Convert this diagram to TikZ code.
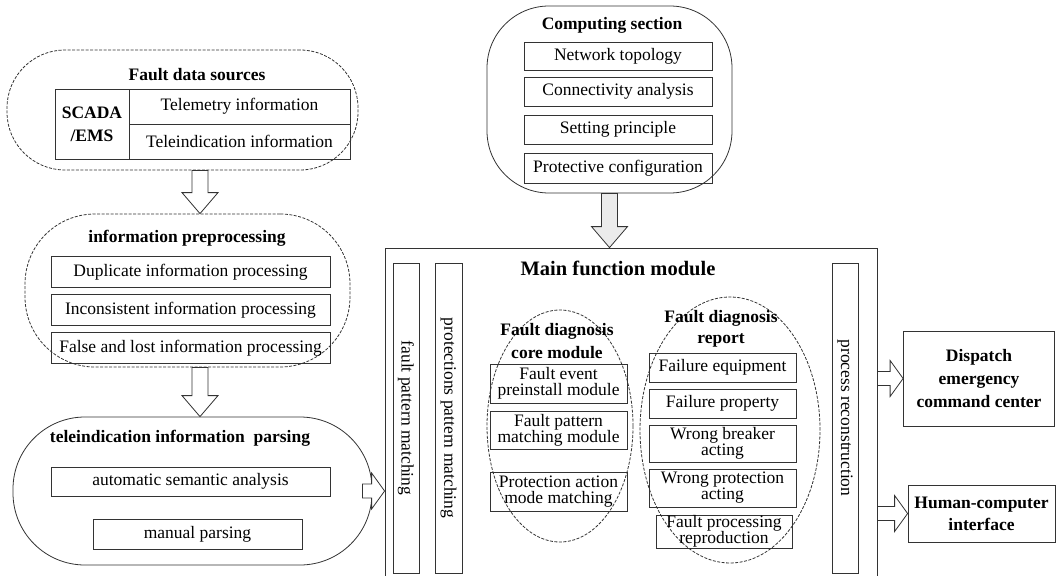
\documentclass[tikz,border=0pt]{standalone}
\usepackage{fontspec}
\setmainfont{Liberation Serif}
\usetikzlibrary{calc,shapes.geometric}
\tikzset{
  box/.style={draw=black!80, inner sep=0pt, align=center},
  group/.style={draw=black!80, inner sep=0pt, rounded corners=#1},
  dline/.style={dash pattern=on 3pt off 1.5pt},
  head/.style={font=\bfseries\fontsize{17.5}{22}\selectfont, align=center, inner sep=0pt},
  darr/.style={draw=black!80, to path={let \p1=(\tikztostart), \p2=(\tikztotarget) in
    (\x1-8pt,\y1) -- (\x1-8pt,\y2+21pt) -- (\x1-18pt,\y2+21pt) -- (\x1,\y2)
    -- (\x1+18pt,\y2+21pt) -- (\x1+8pt,\y2+21pt) -- (\x1+8pt,\y1) -- cycle}},
  rarr/.style={draw=black!80, fill=white, to path={let \p1=(\tikztostart), \p2=(\tikztotarget) in
    (\x1,\y1+7pt) -- (\x2-13pt,\y1+7pt) -- (\x2-13pt,\y1+18pt) -- (\x2,\y1)
    -- (\x2-13pt,\y1-18pt) -- (\x2-13pt,\y1-7pt) -- (\x1,\y1-7pt) -- cycle}}
}
\begin{document}
\begin{tikzpicture}[x=1pt, y=-1pt, line width=.8pt, font=\fontsize{17.5}{16}\selectfont]
\clip (0,0) rectangle (1056,575);
\coordinate (axis) at (200,0);

\node[group=58, dline, minimum width=351, minimum height=120] (fds) at (182.5,110) {};
\node[head] (fdst) at (197,75) {Fault data sources};
\node[box, font=\bfseries\fontsize{17.5}{23}\selectfont, minimum width=74, minimum height=70] (scada) at (92,124) {SCADA\\/EMS};
\node[box, minimum width=221, minimum height=35] (tele1) at (239.5,106.5) {Telemetry information};
\node[box, minimum width=221, minimum height=35] (tele2) at (239.5,141.5) {Teleindication information};

\node[group=70, dline, minimum width=325, minimum height=153] (pre) at (187.5,290.5) {};
\node[head] (pret) at (187,238) {information preprocessing};
\node[box, minimum width=279, minimum height=31] (dup) at (190.5,272) {Duplicate information processing};
\node[box, minimum width=279, minimum height=31] (inc) at (190.5,310) {Inconsistent information processing};
\node[box, minimum width=279, minimum height=31] (fal) at (190.5,348) {False and lost information processing};

\node[group=72, minimum width=359, minimum height=148] (parse) at (192.5,491) {};
\node[head] (parset) at (180,438) {teleindication information\ \ parsing};
\node[box, minimum width=279, minimum height=29] (auto) at (190.5,481.5) {automatic semantic analysis};
\node[box, minimum width=209, minimum height=30] (manual) at (197.5,534) {manual parsing};

\node[group=62, minimum width=245, minimum height=187] (comp) at (609.5,99.5) {};
\node[head] (compt) at (612,25) {Computing section};
\node[box, minimum width=188, minimum height=28] (net) at (618,56) {Network topology};
\node[box, minimum width=188, minimum height=29] (con) at (618,91.5) {Connectivity analysis};
\node[box, minimum width=188, minimum height=29] (set) at (618,129.5) {Setting principle};
\node[box, minimum width=188, minimum height=30] (prot) at (618,168) {Protective configuration};

\node[box, minimum width=492, minimum height=352] (main) at (631,424) {};
\node[head, font=\bfseries\fontsize{20.5}{22}\selectfont] (maint) at (618,268) {Main function module};
\node[box, rotate=-90, minimum width=310, minimum height=26] (fpm) at (406,418) {fault pattern matching};
\node[box, rotate=-90, minimum width=310, minimum height=27] (ppm) at (448.5,418) {protections pattern matching};
\node[box, rotate=-90, minimum width=310, minimum height=26] (prc) at (845,418) {process reconstruction};

\node[ellipse, draw=black!80, dline, minimum width=146, minimum height=232] (core) at (560,426) {};
\node[head, font=\bfseries\fontsize{17.5}{23}\selectfont] (coret) at (557,341) {Fault diagnosis\\core module};
\node[box, minimum width=137, minimum height=39] (fep) at (558.5,383.5) {Fault event\\preinstall module};
\node[box, minimum width=137, minimum height=38] (fpmm) at (558.5,430) {Fault pattern\\matching module};
\node[box, minimum width=137, minimum height=39] (pam) at (558.5,491.5) {Protection action\\mode matching};

\node[ellipse, draw=black!80, dline, minimum width=180, minimum height=266] (rep) at (730,430) {};
\node[head, font=\bfseries\fontsize{17.5}{21}\selectfont] (rept) at (721,329) {Fault diagnosis\\report};
\node[box, minimum width=147, minimum height=29] (feq) at (722.5,367.5) {Failure equipment};
\node[box, minimum width=147, minimum height=29] (fpr) at (722.5,403.5) {Failure property};
\node[box, minimum width=147, minimum height=37] (wba) at (722.5,443.5) {Wrong breaker\\acting};
\node[box, minimum width=147, minimum height=38] (wpa) at (722.5,488) {Wrong protection\\acting};
\node[box, minimum width=136, minimum height=33] (fprr) at (724,531.5) {Fault processing\\reproduction};

\node[box, font=\bfseries\fontsize{17.5}{23}\selectfont, minimum width=151, minimum height=95] (disp) at (979,378.5) {Dispatch\\emergency\\command center};
\node[box, font=\bfseries\fontsize{17.5}{22}\selectfont, minimum width=147, minimum height=57] (hci) at (981.5,513.5) {Human-computer\\interface};

\draw[darr, fill=white] (fds.south -| axis) to (pre.north -| axis);
\draw[darr, fill=white] (pre.south -| axis) to (parse.north -| axis);
\draw[darr, fill=black!8] (comp.south) to (comp.south |- main.north);
\draw[rarr] ($(parse.east)+(-10,0)$) to (parse.east -| main.west);
\draw[rarr] (main.east |- disp.west) to (disp.west);
\draw[rarr] (main.east |- hci.west) to (hci.west);
\end{tikzpicture}
\end{document}
